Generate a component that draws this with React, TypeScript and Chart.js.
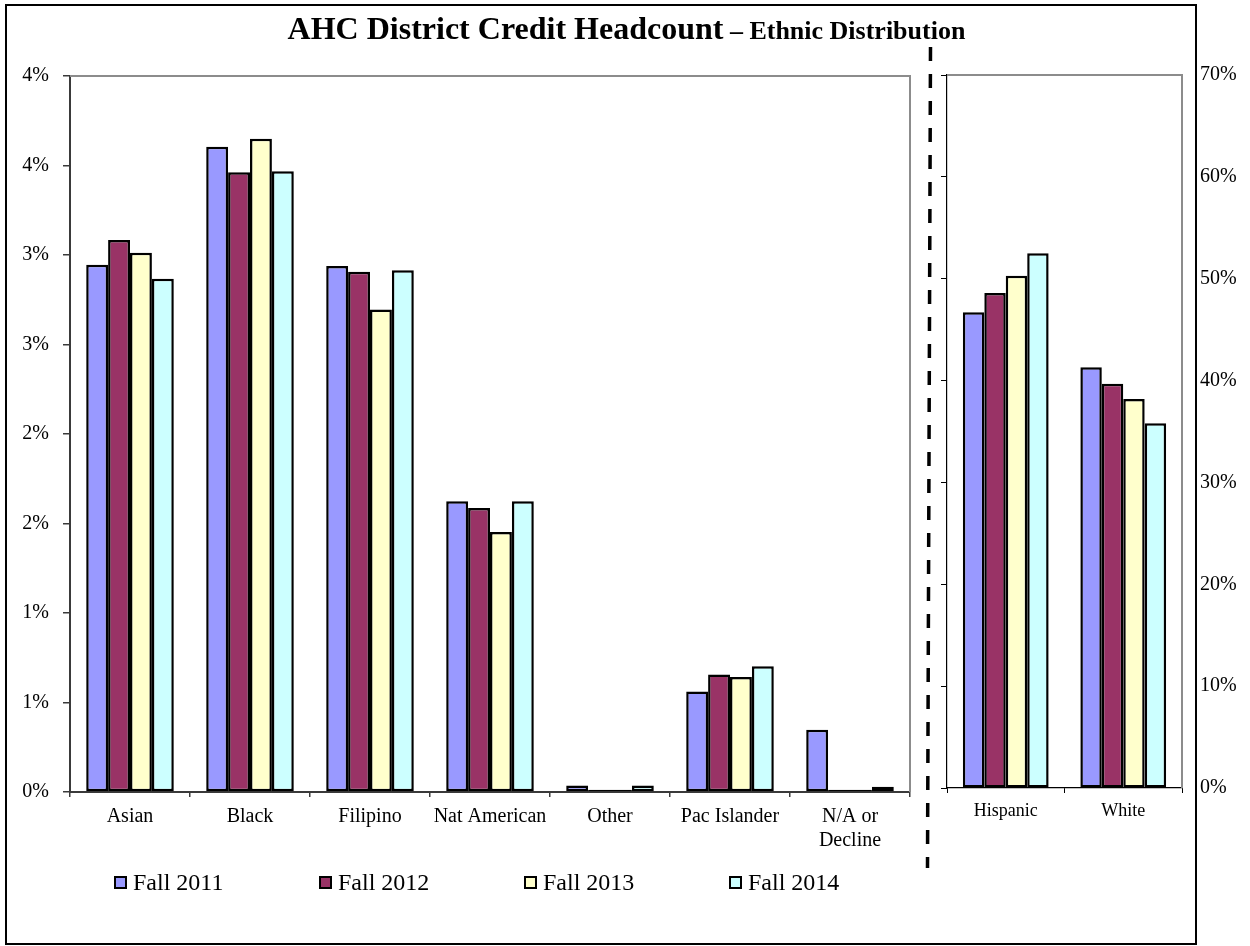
import React, { useEffect, useRef } from "react";
import { Chart, registerables } from "chart.js";

Chart.register(...registerables);

// Smaller ethnic groups (left panel), share of headcount in percent
const smallGroups: (string | string[])[] = [
  "Asian",
  "Black",
  "Filipino",
  "Nat American",
  "Other",
  "Pac Islander",
  ["N/A or", "Decline"],
];
const small2011 = [2.945, 3.605, 2.939, 1.624, 0.037, 0.562, 0.348];
const small2012 = [3.084, 3.462, 2.907, 1.587, 0.012, 0.656, 0.012];
const small2013 = [3.013, 3.65, 2.695, 1.453, 0.012, 0.642, 0.012];
const small2014 = [2.868, 3.468, 2.915, 1.624, 0.037, 0.703, 0.03];

// Larger ethnic groups (right panel), share of headcount in percent
const largeGroups = ["Hispanic", "White"];
const large2011 = [46.7, 41.3];
const large2012 = [48.6, 39.7];
const large2013 = [50.3, 38.2];
const large2014 = [52.5, 35.8];

const terms = ["Fall 2011", "Fall 2012", "Fall 2013", "Fall 2014"];
const termColors = ["#9999FF", "#993366", "#FFFFCC", "#CCFFFF"];

const SERIF = '"Liberation Serif", "Times New Roman", Times, serif';

// Gray frame along the top and right edges of the plot area
const plotFrame = {
  id: "plotFrame",
  afterDraw(chart: any, _args: any, opts: any) {
    const { ctx, chartArea } = chart;
    const { left, top, right, bottom } = chartArea;
    ctx.save();
    ctx.strokeStyle = opts.color || "#8c8c8c";
    ctx.lineWidth = opts.width || 2;
    ctx.beginPath();
    ctx.moveTo(left, top);
    ctx.lineTo(right, top);
    ctx.lineTo(right, bottom);
    ctx.stroke();
    ctx.restore();
  },
};

function makeDatasets(series: number[][]) {
  return series.map((data, i) => ({
    label: terms[i],
    data,
    backgroundColor: termColors[i],
    borderColor: "#000000",
    borderWidth: 2.5,
    borderSkipped: false as const,
    categoryPercentage: 0.73,
    barPercentage: 1,
  }));
}

export default function App() {
  const leftRef = useRef<HTMLCanvasElement | null>(null);
  const rightRef = useRef<HTMLCanvasElement | null>(null);

  useEffect(() => {
    if (!leftRef.current || !rightRef.current) return;

    const left = new Chart(leftRef.current, {
      type: "bar",
      data: {
        labels: smallGroups as any,
        datasets: makeDatasets([small2011, small2012, small2013, small2014]),
      },
      plugins: [plotFrame],
      options: {
        responsive: false,
        animation: false,
        layout: { padding: { left: 10, top: 76, right: 20, bottom: 94 } },
        plugins: {
          legend: { display: false },
          tooltip: { enabled: false },
          plotFrame: { color: "#8c8c8c", width: 2 },
        } as any,
        scales: {
          x: {
            afterFit: (s: any) => {
              s.height = 60;
            },
            grid: {
              display: true,
              drawOnChartArea: false,
              drawTicks: true,
              tickLength: 5,
              color: "#3a3a3a",
              lineWidth: 1.5,
            },
            border: { display: true, color: "#3a3a3a", width: 2 },
            ticks: {
              color: "#000",
              padding: 7.5,
              maxRotation: 0,
              autoSkip: false,
              font: { family: SERIF, size: 20 },
            },
          },
          y: {
            min: 0,
            max: 4,
            afterFit: (s: any) => {
              s.width = 60;
            },
            grid: {
              display: true,
              drawOnChartArea: false,
              drawTicks: true,
              tickLength: 7,
              color: "#3a3a3a",
              lineWidth: 1.5,
            },
            border: { display: true, color: "#3a3a3a", width: 2 },
            ticks: {
              stepSize: 0.5,
              color: "#000",
              padding: 14,
              font: { family: SERIF, size: 20 },
              callback: (v: any) => Math.round(Number(v)) + "%",
            },
          },
        },
      },
    });

    const right = new Chart(rightRef.current, {
      type: "bar",
      data: {
        labels: largeGroups,
        datasets: makeDatasets([large2011, large2012, large2013, large2014]),
      },
      plugins: [plotFrame],
      options: {
        responsive: false,
        animation: false,
        layout: { padding: { left: 10, top: 75, right: 0, bottom: 98 } },
        plugins: {
          legend: { display: false },
          tooltip: { enabled: false },
          plotFrame: { color: "#8c8c8c", width: 2 },
        } as any,
        scales: {
          x: {
            afterFit: (s: any) => {
              s.height = 60;
            },
            grid: {
              display: true,
              drawOnChartArea: false,
              drawTicks: true,
              tickLength: 5,
              color: "#000",
              lineWidth: 1,
            },
            border: { display: true, color: "#000", width: 1.2 },
            ticks: {
              color: "#000",
              padding: 7,
              maxRotation: 0,
              autoSkip: false,
              font: { family: SERIF, size: 18 },
            },
          },
          y: {
            position: "left",
            min: 0,
            max: 70,
            afterFit: (s: any) => {
              s.width = 7;
            },
            grid: {
              display: true,
              drawOnChartArea: false,
              drawTicks: true,
              tickLength: 6,
              color: "#000",
              lineWidth: 1,
            },
            border: { display: true, color: "#000", width: 1.2 },
            ticks: { stepSize: 10, display: false },
          },
          y2: {
            position: "right",
            min: 0,
            max: 70,
            afterFit: (s: any) => {
              s.width = 68;
            },
            grid: { display: false, drawTicks: false },
            border: { display: false },
            ticks: {
              stepSize: 10,
              color: "#000",
              padding: 18,
              font: { family: SERIF, size: 20 },
              callback: (v: any) => v + "%",
            },
          },
        },
      },
    });

    return () => {
      left.destroy();
      right.destroy();
    };
  }, []);

  const legendX = [114, 319, 524, 729];

  return (
    <div
      style={{
        position: "absolute",
        left: 0,
        top: 0,
        width: 1250,
        height: 946,
        overflow: "hidden",
        background: "#fff",
        fontFamily: SERIF,
      }}
    >
      <canvas
        ref={leftRef}
        width={930}
        height={946}
        style={{ position: "absolute", left: 0, top: 0 }}
      />
      <canvas
        ref={rightRef}
        width={320}
        height={946}
        style={{ position: "absolute", left: 930, top: 0 }}
      />

      {/* outer frame */}
      <div
        style={{
          position: "absolute",
          left: 5,
          top: 4,
          width: 1192,
          height: 941,
          border: "2px solid #000",
          boxSizing: "border-box",
          pointerEvents: "none",
        }}
      />

      {/* divider between the two panels */}
      <svg
        width={1250}
        height={946}
        style={{ position: "absolute", left: 0, top: 0, pointerEvents: "none" }}
      >
        <line
          x1={930.5}
          y1={47}
          x2={927.5}
          y2={868}
          stroke="#000"
          strokeWidth={3.5}
          strokeDasharray="14 13"
        />
      </svg>

      {/* title */}
      <div
        style={{
          position: "absolute",
          left: 0,
          top: 12,
          width: 1253,
          textAlign: "center",
          fontWeight: "bold",
          lineHeight: "32px",
          whiteSpace: "nowrap",
          color: "#000",
        }}
      >
        <span style={{ fontSize: 32 }}>AHC District Credit Headcount</span>
        <span style={{ fontSize: 26 }}> – Ethnic Distribution</span>
      </div>

      {/* legend */}
      {terms.map((t, i) => (
        <div
          key={t}
          style={{
            position: "absolute",
            left: legendX[i],
            top: 870,
            height: 24,
            display: "flex",
            alignItems: "center",
            whiteSpace: "nowrap",
          }}
        >
          <span
            style={{
              display: "inline-block",
              width: 13,
              height: 13,
              boxSizing: "border-box",
              border: "2px solid #000",
              background: termColors[i],
              marginRight: 6,
              marginTop: 1,
            }}
          />
          <span style={{ fontSize: 24, lineHeight: "24px", color: "#000" }}>{t}</span>
        </div>
      ))}
    </div>
  );
}
